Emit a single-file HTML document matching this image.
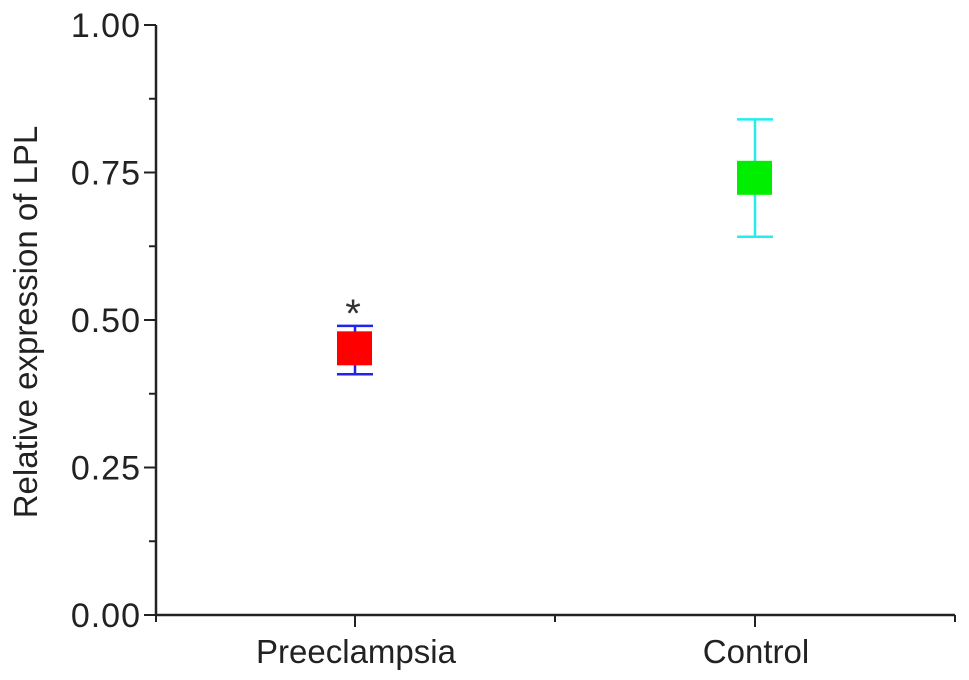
<!DOCTYPE html>
<html><head><meta charset="utf-8"><style>
html,body{margin:0;padding:0;background:#fff;}
svg{display:block;font-family:"Liberation Sans",Arial,sans-serif;}
</style></head><body>
<svg id="chart" width="969" height="680">
<g id="axes"></g>
<g id="marks"></g>
<text x="37" y="322" transform="rotate(-90 37 322)" text-anchor="middle" font-size="33" fill="#222">Relative expression of LPL</text>
</svg>
<script>
const categories = ["Preeclampsia", "Control"];
const means = [0.452, 0.741];
const errLow = [0.408, 0.641];
const errHigh = [0.490, 0.840];
const boxColors = ["#ff0000", "#00ee00"];
const errColors = ["#2222ee", "#22eeee"];
const yTicks = [0, 0.25, 0.5, 0.75, 1.0];
const yTickLabels = ["0.00", "0.25", "0.50", "0.75", "1.00"];
const stars = ["*", ""];

const NS = "http://www.w3.org/2000/svg";
const x0 = 156, x1 = 955, yTop = 25, yBot = 615;
function yScale(v){ return yBot - v * (yBot - yTop); }
function xScale(i){ return 355 + i * 400; }
function mk(tag, attrs, parent){ const e = document.createElementNS(NS, tag); for (const k in attrs) e.setAttribute(k, attrs[k]); parent.appendChild(e); return e; }
const axes = document.getElementById("axes"), marks = document.getElementById("marks");

let l = mk("line", {x1:x0, y1:yTop, x2:x0, y2:yBot+1, stroke:"#222", "stroke-width":2.5}, axes);


l = mk("line", {x1:x0-1, y1:yBot, x2:x1, y2:yBot, stroke:"#222", "stroke-width":2.5}, axes);



yTicks.forEach((v, i) => {
  const y = yScale(v);
  const t = mk("line", {x1:x0-12, y1:y, x2:x0, y2:y, stroke:"#222", "stroke-width":2}, axes);
  
  
  const tx = mk("text", {x:x0-15, y:y+12, "text-anchor":"end", "font-size":34, "letter-spacing":1, fill:"#222"}, axes);
  tx.textContent = yTickLabels[i];
  
  
  if (i < yTicks.length - 1) {
    const ym = yScale(v + 0.125);
    const m = mk("line", {x1:x0-7, y1:ym, x2:x0, y2:ym, stroke:"#222", "stroke-width":2}, axes);
    
    
  }
});
[x0, 555, x1].forEach(x => {
  const m = mk("line", {x1:x, y1:yBot, x2:x, y2:yBot+7, stroke:"#222", "stroke-width":2}, axes);
  
  
});

categories.forEach((c, i) => {
  const x = xScale(i);
  const t = mk("line", {x1:x, y1:yBot, x2:x, y2:yBot+12, stroke:"#222", "stroke-width":2}, axes);
  
  
  const tx = mk("text", {x:x+1, y:663, "text-anchor":"middle", "font-size":33, fill:"#222"}, axes);
  tx.textContent = c;
  
  

  const g = mk("g", {}, marks);
  
  
  const yl = yScale(errLow[i]), yh = yScale(errHigh[i]), ym = yScale(means[i]);
  const e = mk("line", {x1:x, y1:yh, x2:x, y2:yl, stroke:errColors[i], "stroke-width":2.5}, g);
  
  
  [yh, yl].forEach(y => {
    const cap = mk("line", {x1:x-18, y1:y, x2:x+18, y2:y, stroke:errColors[i], "stroke-width":2.5}, g);
    
    
  });
  const b = mk("rect", {x:x-18, y:ym-17, width:35, height:34, fill:boxColors[i]}, g);
  
  
  if (stars[i]) {
    const s = mk("text", {x:x-2, y:yh+1, "text-anchor":"middle", "font-size":40, fill:"#333"}, g);
    s.textContent = stars[i];
    
    
  }
});
</script>
</body></html>
